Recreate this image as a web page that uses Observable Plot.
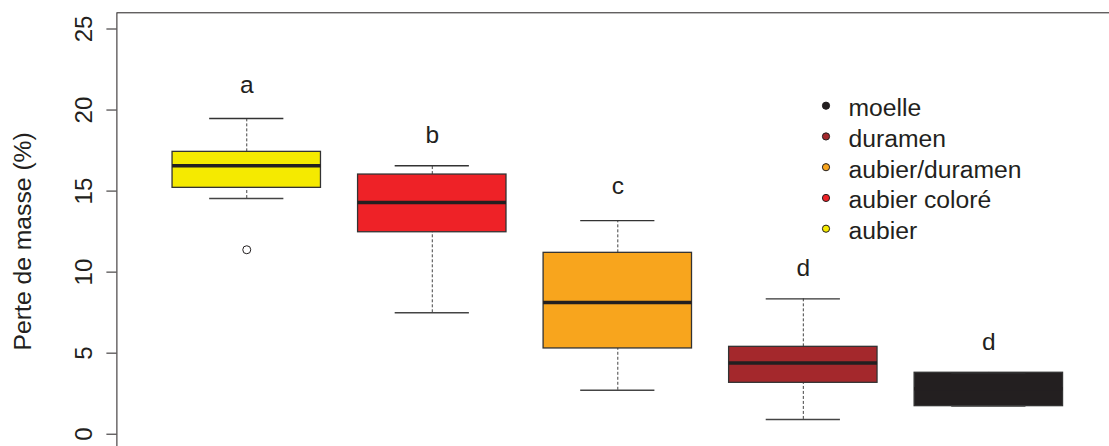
<!DOCTYPE html>
<html><head><meta charset="utf-8">
<script src="https://cdn.jsdelivr.net/npm/d3@7"></script>
<script src="https://cdn.jsdelivr.net/npm/@observablehq/plot@0.6"></script>
<style>
html,body{margin:0;padding:0;background:#fff;overflow:hidden}
#wrap{position:relative;width:1109px;height:446px;overflow:hidden}
#wrap svg{position:absolute;left:0;top:0}
</style></head><body><div id="wrap"></div>
<script>
// ---- data ----
const categories = ["aubier", "aubier coloré", "aubier/duramen", "duramen", "moelle"];
const colors = ["#F5EA00", "#EE2227", "#F8A51D", "#A4282C", "#231F20"];
const lowerWhisker = [14.54, 7.49, 2.71, 0.91, 1.73];
const q1 = [15.20, 12.46, 5.29, 3.17, 1.73];
const median = [16.56, 14.29, 8.12, 4.40, 2.80];
const q3 = [17.42, 16.02, 11.19, 5.39, 3.79];
const upperWhisker = [19.48, 16.56, 13.18, 8.35, 3.79];
const outlierCats = ["aubier"];
const outlierValues = [11.38];
const letters = ["a", "b", "c", "d", "d"];
const letterY = [21.06, 17.98, 14.81, 9.77, 5.21];
const yTicks = [0, 5, 10, 15, 20, 25];
const yLabel = "Perte de masse (%)";

const ink = "#231F20";
const font = "'Liberation Sans', Arial, Helvetica, sans-serif";

const table = categories.map((c, i) => ({
  cat: c, pos: i + 1, lo: lowerWhisker[i], q1: q1[i], med: median[i],
  q3: q3[i], hi: upperWhisker[i], color: colors[i], letter: letters[i], ly: letterY[i]
}));
const outlierRows = outlierCats.map((c, i) => ({pos: categories.indexOf(c) + 1, value: outlierValues[i]}));

const chart = Plot.plot({
  width: 1109, height: 446,
  marginLeft: 116.4, marginTop: 12.3, marginRight: -9.2, marginBottom: -3.9,
  x: {type: "linear", domain: [0.3, 5.7], range: [116.4, 1118.2], axis: null},
  y: {domain: [-1, 26], range: [449.9, 12.3]},
  color: {type: "identity"},
  style: {fontFamily: font, fontSize: "24px", color: ink, background: "white", overflow: "hidden"},
  marks: [
    Plot.axisY({ticks: yTicks, tickSize: 10, fill: "none", stroke: ink, strokeWidth: 1, label: null}),
    Plot.text(yTicks, {y: d => d, text: d => String(d), frameAnchor: "left", rotate: -90, dx: -24.7,
      textAnchor: "middle", lineAnchor: "bottom", fontSize: 24, fill: ink}),
    Plot.text([yLabel], {text: d => d, frameAnchor: "left", rotate: -90, dx: -86.4, dy: 9.7,
      textAnchor: "middle", lineAnchor: "bottom", fontSize: 24.7, fill: ink}),
    // whiskers
    Plot.ruleX(table, {x: "pos", y1: "q3", y2: "hi", stroke: "#444", strokeWidth: 1, strokeDasharray: "3,2"}),
    Plot.ruleX(table, {x: "pos", y1: "lo", y2: "q1", stroke: "#444", strokeWidth: 1, strokeDasharray: "3,2"}),
    // boxes
    Plot.rect(table, {x1: d => d.pos - 0.4, x2: d => d.pos + 0.4, y1: "q1", y2: "q3",
      fill: "color", stroke: "#333", strokeWidth: 1.3}),
    // medians
    Plot.ruleY(table, {y: "med", x1: d => d.pos - 0.4, x2: d => d.pos + 0.4, stroke: ink, strokeWidth: 3.5}),
    // caps
    Plot.ruleY(table, {y: "hi", x1: d => d.pos - 0.2, x2: d => d.pos + 0.2, stroke: "#333", strokeWidth: 1.4}),
    Plot.ruleY(table, {y: "lo", x1: d => d.pos - 0.2, x2: d => d.pos + 0.2, stroke: "#444", strokeWidth: 1.4}),
    // outliers
    Plot.dot(outlierRows, {x: "pos", y: "value", r: 4, fill: "white", stroke: ink, strokeWidth: 1}),
    // group letters
    Plot.text(table, {x: "pos", y: "ly", text: "letter", lineAnchor: "bottom", textAnchor: "middle",
      fontSize: 24.5, fill: ink}),
    Plot.frame({stroke: ink, strokeWidth: 1})
  ]
});
const wrap = document.getElementById("wrap");
wrap.appendChild(chart);

// ---- legend (overlay, top-right inside plot) ----
const legendItems = categories.map((c, i) => ({label: c, color: colors[i]})).reverse();
const leg = d3.select(wrap).append("svg")
  .attr("width", 1109).attr("height", 446)
  .style("pointer-events", "none");
const g = leg.selectAll("g").data(legendItems).join("g")
  .attr("transform", (d, i) => `translate(826,${105.7 + i * 30.75})`);
g.append("circle").attr("r", 3.6).attr("fill", d => d.color).attr("stroke", ink).attr("stroke-width", 1);
g.append("text").attr("x", 22.5).attr("y", 10.5)
  .attr("font-family", font).attr("font-size", 24.7).attr("fill", ink)
  .text(d => d.label);
</script></body></html>
